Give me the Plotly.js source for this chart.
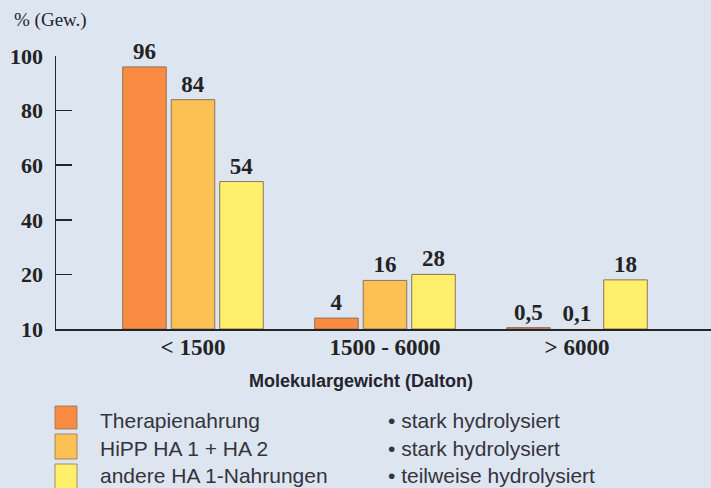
<!DOCTYPE html>
<html><head><meta charset="utf-8">
<script src="https://cdn.plot.ly/plotly-3.0.1.min.js"></script>
<style>html,body{margin:0;padding:0;background:#dde5f1;}#chart{width:711px;height:488px;}</style>
</head><body><div id="chart"></div>
<script>
const categories = ['< 1500', '1500 - 6000', '> 6000'];
const seriesNames = ['Therapienahrung', 'HiPP HA 1 + HA 2', 'andere HA 1-Nahrungen'];
const seriesNotes = ['• stark hydrolysiert', '• stark hydrolysiert', '• teilweise hydrolysiert'];
// bar heights as drawn in the picture
const therapie = [96, 4, 0.5];
const hipp = [84, 17.8, 0.1];
const andere = [54, 20, 18];
// printed value labels
const therapieLabels = ['96', '4', '0,5'];
const hippLabels = ['84', '16', '0,1'];
const andereLabels = ['54', '28', '18'];
const yTickVals = [0, 20, 40, 60, 80, 100];
const yTickText = ['10', '20', '40', '60', '80', '100'];
const yTitle = '% (Gew.)';
const xTitle = 'Molekulargewicht (Dalton)';

const colors = ['#f98b43', '#fcc155', '#fff06b'];
const outline = '#8f7258';
const dark = '#24242c';
const W = 711, H = 488, L = 56, R = 0, T = 56, B = 159;
const pw = W - L - R, ph = H - T - B;
const px = x => (x - L) / pw;
const py = y => (H - B - y) / ph;

const labelFont = {family: 'Liberation Serif, DejaVu Serif, serif', size: 23, weight: 'bold', color: '#232323'};
const values = [therapie, hipp, andere];
const labels = [therapieLabels, hippLabels, andereLabels];
const lineWidths = [[1, 1, 1], [1, 1, 0], [1, 1, 1]];

const data = values.map((v, i) => ({
  type: 'bar', x: categories, y: v, name: seriesNames[i],
  text: labels[i], textposition: 'outside', textfont: labelFont,
  constraintext: 'none', cliponaxis: false, hoverinfo: 'skip',
  marker: {color: colors[i], line: {color: outline, width: lineWidths[i]}},
  showlegend: false
}));

const shapes = [];
const annotations = [];
const rowTop = [406, 434, 464];
const rowH = [23, 25, 26];
const rowText = [420, 448, 476];
for (let i = 0; i < 3; i++) {
  shapes.push({type: 'rect', xref: 'paper', yref: 'paper',
    x0: px(55), x1: px(77), y0: py(rowTop[i] + rowH[i]), y1: py(rowTop[i]),
    fillcolor: colors[i], line: {color: outline, width: 0.8}});
  annotations.push({xref: 'paper', yref: 'paper', x: px(98), y: py(rowText[i]),
    xanchor: 'left', yanchor: 'middle', showarrow: false, text: seriesNames[i],
    font: {family: 'Liberation Sans, Arial, sans-serif', size: 21, color: '#34343c'}});
  annotations.push({xref: 'paper', yref: 'paper', x: px(386), y: py(rowText[i]),
    xanchor: 'left', yanchor: 'middle', showarrow: false, text: seriesNotes[i],
    font: {family: 'Liberation Sans, Arial, sans-serif', size: 21, color: '#34343c'}});
}
annotations.push({xref: 'paper', yref: 'paper', x: px(12), y: py(20),
  xanchor: 'left', yanchor: 'middle', showarrow: false, text: yTitle,
  font: {family: 'Liberation Serif, serif', size: 19, color: '#24242c'}});
annotations.push({xref: 'paper', yref: 'paper', x: px(361), y: py(381),
  xanchor: 'center', yanchor: 'middle', showarrow: false, text: xTitle,
  font: {family: 'Liberation Sans, Arial, sans-serif', size: 18, weight: 'bold', color: '#24242c'}});

const layout = {
  width: W, height: H,
  margin: {l: L, r: R, t: T, b: B, pad: 0},
  paper_bgcolor: '#dde5f1', plot_bgcolor: '#dde5f1',
  barmode: 'group', bargap: 0.242, bargroupgap: 0.103,
  showlegend: false,
  xaxis: {type: 'category', range: [-0.7135, 2.698], showline: true, linecolor: dark, linewidth: 1.5,
    ticks: '', showgrid: false, zeroline: false, fixedrange: true, ticklabelstandoff: -3,
    tickfont: {family: 'Liberation Serif, DejaVu Serif, serif', size: 23, weight: 'bold', color: '#232323'}},
  yaxis: {range: [0, 100], tickvals: yTickVals, ticktext: yTickText, ticks: 'inside', ticklen: 16,
    tickwidth: 1.5, tickcolor: dark, showline: true, linecolor: dark, linewidth: 1.5,
    showgrid: false, zeroline: false, fixedrange: true, ticklabelstandoff: 7,
    tickfont: {family: 'Liberation Serif, DejaVu Serif, serif', size: 22, weight: 'bold', color: '#232323'}},
  shapes: shapes,
  annotations: annotations
};
Plotly.newPlot('chart', data, layout, {staticPlot: true, displayModeBar: false});
</script></body></html>
